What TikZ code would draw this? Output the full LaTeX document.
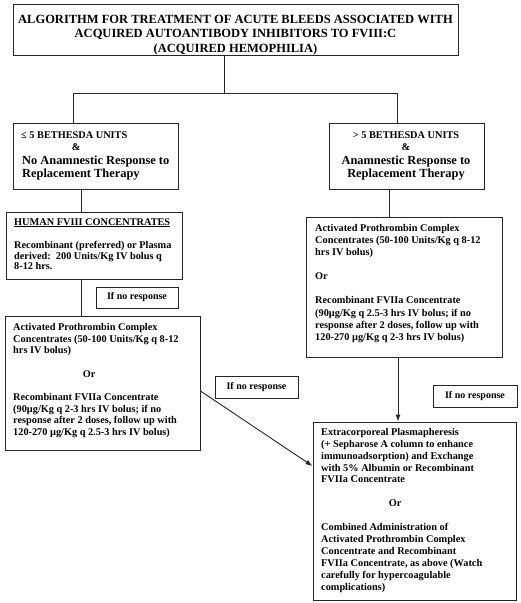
\documentclass[tikz,border=0pt]{standalone}
\usepackage{fontspec}
\setmainfont{Liberation Serif}
\usetikzlibrary{arrows.meta}
\tikzset{
  box/.style={draw=black!85, line width=0.9pt, inner sep=0pt, fill=white},
  body/.style={inner sep=0pt, align=left, font=\fontsize{10.3}{11.7}\selectfont\bfseries},
  bodyc/.style={inner sep=0pt, align=center, font=\fontsize{10.3}{12}\selectfont\bfseries},
  head/.style={inner sep=0pt, font=\fontsize{12.4}{13}\selectfont\bfseries},
  nores/.style={box, font=\fontsize{10}{12}\selectfont\bfseries},
  conn/.style={draw=black!85, line width=0.9pt},
  arr/.style={conn, -{Latex[length=7pt,width=5pt]}}
}
\begin{document}
\begin{tikzpicture}[x=1pt,y=-1pt]
\useasboundingbox[fill=white] (0,0) rectangle (520,603);

% boxes
\node[box, minimum width=445pt, minimum height=51pt] (title) at (235.5,29.5) {};
\node[box, minimum width=165pt, minimum height=66pt] (lb1) at (95.5,156) {};
\node[box, minimum width=155pt, minimum height=66pt] (rb1) at (406.5,156) {};
\node[box, minimum width=176pt, minimum height=67pt] (human) at (94,245.5) {};
\node[box, minimum width=195pt, minimum height=134pt] (lb3) at (102.5,383) {};
\node[box, minimum width=196pt, minimum height=140pt] (rb2) at (404,287) {};
\node[box, minimum width=203pt, minimum height=178pt] (final) at (414.5,511) {};
\node[nores, minimum width=82pt, minimum height=21pt] (nr1) at (137,297.5) {If no response};
\node[nores, minimum width=83pt, minimum height=22pt] (nr2) at (256.5,387) {If no response};
\node[nores, minimum width=84pt, minimum height=22pt] (nr3) at (475,396) {If no response};

% texts
\node[inner sep=0pt, anchor=north, align=center, font=\fontsize{12.5}{14.5}\selectfont\bfseries] (titletext) at (235.5,15)
  {ALGORITHM FOR TREATMENT OF ACUTE BLEEDS ASSOCIATED WITH\\ACQUIRED AUTOANTIBODY INHIBITORS TO FVIII:C\\(ACQUIRED HEMOPHILIA)};

\node[body, anchor=north west, font=\fontsize{10.3}{12}\selectfont\bfseries] (lb1a) at (21,131)
  {≤ 5 BETHESDA UNITS\\\hspace*{50.7pt}\&};
\node[head, anchor=north west, align=left] (lb1b) at (22,156)
  {No Anamnestic Response to\\Replacement Therapy};

\node[bodyc, anchor=north] (rb1a) at (406,131) {> 5 BETHESDA UNITS\\\&};
\node[head, anchor=north, align=center] (rb1b) at (406,156)
  {Anamnestic Response to\\Replacement Therapy};

\node[body, anchor=north west, font=\fontsize{10.3}{10.5}\selectfont\bfseries] (humantext) at (14,218)
  {\underline{HUMAN FVIII CONCENTRATES}\\[13pt]Recombinant (preferred) or Plasma\\derived:\ \ 200 Units/Kg IV bolus q\\8-12 hrs.};

\node[body, anchor=north west] (lb3text) at (13,323)
  {Activated Prothrombin Complex\\Concentrates (50-100 Units/Kg q 8-12\\hrs IV bolus)\\[11.7pt]\hspace*{69.7pt}Or\\[11.7pt]Recombinant FVIIa Concentrate\\(90µg/Kg q 2-3 hrs IV bolus; if no\\response after 2 doses, follow up with\\120-270 µg/Kg q 2.5-3 hrs IV bolus)};

\node[body, anchor=north west, font=\fontsize{10.3}{12.1}\selectfont\bfseries] (rb2text) at (315,224)
  {Activated Prothrombin Complex\\Concentrates (50-100 Units/Kg q 8-12\\hrs IV bolus)\\[12.1pt]Or\\[12.1pt]Recombinant FVIIa Concentrate\\(90µg/Kg q 2.5-3 hrs IV bolus; if no\\response after 2 doses, follow up with\\120-270 µg/Kg q 2-3 hrs IV bolus)};

\node[body, anchor=north west, font=\fontsize{10.3}{11.9}\selectfont\bfseries] (finaltext) at (321,428)
  {Extracorporeal Plasmapheresis\\(+ Sepharose A column to enhance\\immunoadsorption) and Exchange\\with 5\% Albumin or Recombinant\\FVIIa Concentrate\\[11.9pt]\hspace*{67.7pt}Or\\[11.9pt]Combined Administration of\\Activated Prothrombin Complex\\Concentrate and Recombinant\\FVIIa Concentrate, as above (Watch\\carefully for hypercoagulable\\complications)};

% connectors
\coordinate (jc) at (224,93);
\coordinate (jl) at (73,93);
\coordinate (jr) at (397,93);
\coordinate (lx) at (81,0);
\coordinate (rx1) at (389,0);
\coordinate (rx2) at (398,0);

\draw[conn] (title.south -| jc) -- (jc);
\draw[conn] (lb1.north -| jl) -- (jl) -- (jr) -- (rb1.north -| jr);
\draw[conn] (lb1.south -| lx) -- (human.north -| lx);
\draw[conn] (human.south -| lx) -- (lb3.north -| lx);
\draw[conn] (rb1.south -| rx1) -- (rb2.north -| rx1);
\draw[arr] (rb2.south -| rx2) -- (final.north -| rx2);
\draw[arr] ([yshift=-8pt]lb3.east) -- ([yshift=45pt]final.west);
\end{tikzpicture}
\end{document}
